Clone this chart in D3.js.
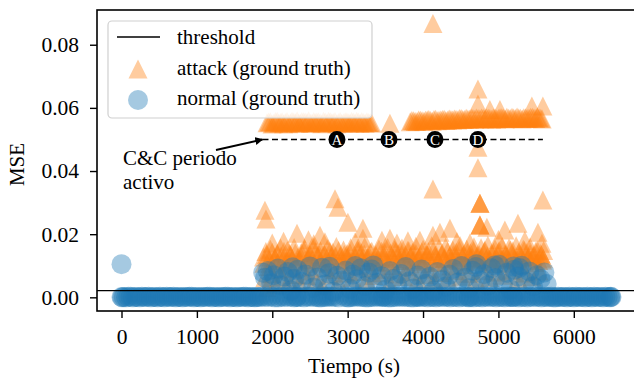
<!DOCTYPE html>
<html><head><meta charset="utf-8">
<script src="https://cdn.jsdelivr.net/npm/d3@7"></script>
<style>body{margin:0;background:#fff}svg{display:block}text{font-family:"Liberation Serif","Times New Roman",serif}</style>
</head><body><svg id="c" width="634" height="378"></svg>
<script>
// ---------- data ----------
const xTicks = [0,1000,2000,3000,4000,5000,6000];
const yTicks = [0,0.02,0.04,0.06,0.08];
const threshold = 0.0021;
const ccPeriod = [1870, 5590];
const ccLevel = 0.05;
const markLabels = ["A","B","C","D"];
const markTimes = [2858, 3548, 4158, 4728];
const legendLabels = ["threshold","attack (ground truth)","normal (ground truth)"];

// attack: plateau ~0.055 (two bands + B)
const attackBand = [
[1930,0.0553],[1975,0.0556],[2020,0.0551],[2065,0.0558],[2110,0.0554],[2150,0.0550],[2195,0.0557],[2240,0.0553],
[2285,0.0555],[2330,0.0559],[2370,0.0552],[2415,0.0556],[2460,0.0554],[2505,0.0551],[2550,0.0557],[2590,0.0555],
[2635,0.0553],[2680,0.0558],[2725,0.0552],[2770,0.0556],[2810,0.0554],[2855,0.0550],[2900,0.0557],[2945,0.0553],
[2990,0.0556],[3030,0.0552],[3075,0.0555],[3120,0.0558],[3165,0.0551],[3210,0.0554],[3255,0.0556],[3300,0.0553],
[1952,0.0555],[1997,0.0549],[2042,0.0557],[2087,0.0552],[2130,0.0556],[2172,0.0554],[2217,0.0550],[2262,0.0558],
[2307,0.0553],[2350,0.0551],[2392,0.0557],[2437,0.0555],[2482,0.0559],[2527,0.0552],[2570,0.0554],[2612,0.0556],
[2657,0.0550],[2702,0.0555],[2747,0.0558],[2790,0.0553],[2832,0.0557],[2877,0.0554],[2922,0.0551],[2967,0.0556],
[3010,0.0553],[3052,0.0558],[3097,0.0552],[3142,0.0555],[3187,0.0557],[3232,0.0551],[3277,0.0554],[3320,0.0552],
[3561,0.0551],
[3830,0.0556],[3875,0.0559],[3920,0.0557],[3965,0.0561],[4010,0.0558],[4055,0.0562],[4100,0.0560],[4145,0.0563],
[4190,0.0559],[4235,0.0562],[4280,0.0564],[4325,0.0561],[4370,0.0563],[4415,0.0565],[4460,0.0562],[4505,0.0566],
[4550,0.0563],[4595,0.0565],[4640,0.0567],[4685,0.0564],[4730,0.0566],[4775,0.0568],[4820,0.0565],[4865,0.0567],
[4910,0.0564],[4955,0.0568],[5000,0.0566],[5045,0.0569],[5090,0.0565],[5135,0.0567],[5180,0.0570],[5225,0.0566],
[5270,0.0568],[5315,0.0565],[5360,0.0569],[5405,0.0567],[5450,0.0570],[5495,0.0566],[5540,0.0568],[5580,0.0565],
[3852,0.0560],[3897,0.0557],[3942,0.0562],[3987,0.0559],[4032,0.0561],[4077,0.0563],[4122,0.0558],[4167,0.0564],
[4212,0.0561],[4257,0.0563],[4302,0.0560],[4347,0.0565],[4392,0.0562],[4437,0.0564],[4482,0.0566],[4527,0.0563],
[4572,0.0567],[4617,0.0564],[4662,0.0566],[4707,0.0568],[4752,0.0565],[4797,0.0567],[4842,0.0569],[4887,0.0566],
[4932,0.0568],[4977,0.0565],[5022,0.0569],[5067,0.0567],[5112,0.0570],[5157,0.0566],[5202,0.0568],[5247,0.0571],
[5292,0.0567],[5337,0.0569],[5382,0.0566],[5427,0.0570],[5472,0.0568],[5517,0.0571],[5562,0.0567]
];
// attack: isolated high values
const attackPeaks = [
[4131,0.0867],[4728,0.0660],[4728,0.0612],[4887,0.0595],[5020,0.0595],[5444,0.0606],[5590,0.0606],
[4728,0.0475],[4728,0.0410],[4131,0.0343],
[1903,0.0276],[1916,0.0248],[2328,0.0203],[2633,0.0197],[2699,0.0176],[2832,0.0312],[2871,0.0285],[3003,0.0238],
[3203,0.0219],[3203,0.0187],[3455,0.0181],[3561,0.0187],[3654,0.0172],[3959,0.0181],[4131,0.0197],[4224,0.0206],
[4357,0.0219],[4622,0.0172],[4755,0.0298],[4755,0.0298],[4755,0.0298],[4755,0.0229],[4755,0.0229],[4755,0.0229],
[4847,0.0222],[5086,0.0213],[5259,0.0235],[5524,0.0206],[5577,0.0171],[5590,0.0308],
[2150,0.0178],[2480,0.0182],[3100,0.0176],[3800,0.0179],[4450,0.0177],[5000,0.0183],[5350,0.0180],[2000,0.0172],[2550,0.0170]
];
// attack: low cloud
const attackLow = [
[1885,0.0128],[1900,0.0062],[1915,0.0145],[1930,0.0031],[1950,0.0098],[1975,0.0152],[1995,0.0075],[2020,0.0118],
[2040,0.0041],[2065,0.0139],[2085,0.0087],[2110,0.0156],[2130,0.0064],[2150,0.0124],[2175,0.0102],[2200,0.0148],
[2220,0.0053],[2245,0.0133],[2270,0.0091],[2290,0.0158],[2315,0.0072],[2340,0.0127],[2360,0.0044],[2385,0.0142],
[2410,0.0096],[2430,0.0154],[2455,0.0068],[2480,0.0121],[2500,0.0137],[2525,0.0083],[2550,0.0159],[2570,0.0058],
[2595,0.0129],[2620,0.0108],[2640,0.0147],[2665,0.0035],[2690,0.0135],[2710,0.0094],[2735,0.0155],[2760,0.0071],
[2780,0.0126],[2805,0.0143],[2830,0.0088],[2850,0.0161],[2875,0.0049],[2900,0.0131],[2920,0.0105],[2945,0.0150],
[2970,0.0077],[2990,0.0138],[3015,0.0119],[3040,0.0157],[3060,0.0063],[3085,0.0132],[3110,0.0099],[3130,0.0149],
[3155,0.0082],[3180,0.0141],[3200,0.0115],[3225,0.0160],[3250,0.0055],[3270,0.0127],[3295,0.0093],[3320,0.0146],
[3345,0.0069],[3370,0.0136],[3390,0.0112],[3415,0.0153],[3440,0.0078],[3460,0.0124],[3485,0.0144],[3510,0.0089],
[3530,0.0158],[3555,0.0046],[3580,0.0130],[3600,0.0101],[3625,0.0151],[3650,0.0074],[3670,0.0139],[3695,0.0117],
[3720,0.0156],[3740,0.0066],[3765,0.0134],[3790,0.0097],[3810,0.0148],[3835,0.0081],[3860,0.0142],[3880,0.0120],
[3905,0.0162],[3930,0.0057],[3950,0.0128],[3975,0.0106],[4000,0.0152],[4020,0.0072],[4045,0.0137],[4070,0.0145],
[4090,0.0090],[4115,0.0163],[4140,0.0051],[4160,0.0133],[4185,0.0110],[4210,0.0155],[4230,0.0079],[4255,0.0140],
[4280,0.0123],[4300,0.0159],[4325,0.0061],[4350,0.0131],[4370,0.0100],[4395,0.0150],[4420,0.0085],[4440,0.0143],
[4465,0.0118],[4490,0.0164],[4510,0.0067],[4535,0.0135],[4560,0.0104],[4580,0.0153],[4605,0.0076],[4630,0.0141],
[4650,0.0126],[4675,0.0160],[4700,0.0058],[4720,0.0132],[4745,0.0113],[4770,0.0157],[4790,0.0084],[4815,0.0146],
[4840,0.0121],[4860,0.0165],[4885,0.0063],[4910,0.0138],[4930,0.0107],[4955,0.0154],[4980,0.0080],[5000,0.0144],
[5025,0.0125],[5050,0.0161],[5070,0.0070],[5095,0.0134],[5120,0.0109],[5140,0.0156],[5165,0.0086],[5190,0.0147],
[5210,0.0122],[5235,0.0163],[5260,0.0060],[5280,0.0136],[5305,0.0103],[5330,0.0152],[5350,0.0077],[5375,0.0142],
[5400,0.0128],[5420,0.0159],[5445,0.0065],[5470,0.0133],[5490,0.0111],[5515,0.0150],[5540,0.0083],[5560,0.0139],
[5585,0.0118],[5600,0.0148]
];
const attackLow2 = [
[1890,0.0108],[1925,0.0136],[1960,0.0117],[2000,0.0143],[2035,0.0125],[2075,0.0109],[2115,0.0131],[2155,0.0146],
[2190,0.0114],[2230,0.0138],[2265,0.0122],[2305,0.0140],[2345,0.0111],[2380,0.0129],[2420,0.0147],[2460,0.0116],
[2495,0.0134],[2535,0.0120],[2575,0.0144],[2610,0.0127],[2650,0.0112],[2690,0.0139],[2725,0.0123],[2765,0.0145],
[2800,0.0115],[2840,0.0132],[2880,0.0148],[2915,0.0118],[2955,0.0136],[2995,0.0124],[3030,0.0141],[3070,0.0113],
[3105,0.0130],[3145,0.0147],[3185,0.0119],[3220,0.0137],[3260,0.0126],[3300,0.0143],[3335,0.0114],[3375,0.0131],
[3410,0.0121],[3450,0.0146],[3490,0.0128],[3525,0.0112],[3565,0.0140],[3605,0.0124],[3640,0.0145],[3680,0.0117],
[3715,0.0134],[3755,0.0122],[3795,0.0148],[3830,0.0129],[3870,0.0113],[3905,0.0139],[3945,0.0125],[3985,0.0144],
[4020,0.0116],[4060,0.0133],[4095,0.0121],[4135,0.0147],[4175,0.0127],[4210,0.0112],[4250,0.0138],[4290,0.0124],
[4325,0.0146],[4365,0.0118],[4400,0.0135],[4440,0.0126],[4480,0.0149],[4515,0.0130],[4555,0.0114],[4590,0.0141],
[4630,0.0123],[4670,0.0147],[4705,0.0119],[4745,0.0136],[4780,0.0128],[4820,0.0150],[4855,0.0131],[4895,0.0115],
[4935,0.0142],[4970,0.0124],[5010,0.0148],[5045,0.0120],[5085,0.0137],[5120,0.0127],[5160,0.0151],[5195,0.0132],
[5235,0.0116],[5270,0.0143],[5310,0.0125],[5345,0.0149],[5385,0.0121],[5420,0.0138],[5460,0.0129],[5495,0.0146],
[5535,0.0117],[5570,0.0135],[5595,0.0124]
];
// normal: near-zero baseline
const normalBase = [
[0,0.0001],[60,0.0000],[120,0.0002],[180,0.0001],[240,0.0000],[300,0.0001],[360,0.0002],[420,0.0001],[480,0.0000],
[540,0.0001],[600,0.0002],[660,0.0001],[720,0.0000],[780,0.0001],[840,0.0001],[900,0.0002],[960,0.0000],[1020,0.0001],
[1080,0.0001],[1140,0.0002],[1200,0.0000],[1260,0.0001],[1320,0.0001],[1380,0.0002],[1440,0.0000],[1500,0.0001],
[1560,0.0001],[1620,0.0002],[1680,0.0000],[1740,0.0001],[1800,0.0001],[1860,0.0002],
[1900,0.0001],[1990,0.0002],[2080,0.0000],[2160,0.0001],[2250,0.0002],[2330,0.0001],[2420,0.0000],[2500,0.0002],
[2590,0.0001],[2650,0.0000],[2720,0.0001],[2790,0.0002],[2960,0.0001],[3020,0.0000],[3090,0.0002],[3170,0.0001],
[3240,0.0000],[3310,0.0001],[3390,0.0002],[3460,0.0001],[3540,0.0000],[3610,0.0001],[3690,0.0002],[3760,0.0001],
[3840,0.0000],[3910,0.0002],[3990,0.0001],[4060,0.0000],[4140,0.0001],[4210,0.0002],[4290,0.0001],[4360,0.0000],
[4440,0.0001],[4520,0.0002],[4600,0.0001],[4670,0.0000],[4750,0.0001],[4820,0.0002],[4900,0.0001],[4970,0.0000],
[5050,0.0001],[5120,0.0002],[5200,0.0001],[5270,0.0000],[5350,0.0001],[5420,0.0002],[5500,0.0001],[5570,0.0000],
[5640,0.0001],[5700,0.0002],[5760,0.0000],[5820,0.0001],[5880,0.0001],[5940,0.0002],[6000,0.0000],[6060,0.0001],
[6120,0.0001],[6180,0.0002],[6240,0.0000],[6300,0.0001],[6360,0.0001],[6420,0.0002],[6480,0.0000],[6500,0.0001]
];
const normalBase2 = [
[1945,0.0001],[2035,0.0000],[2120,0.0002],[2205,0.0001],[2290,0.0000],[2375,0.0001],[2460,0.0002],[2545,0.0001],
[2620,0.0000],[2685,0.0001],[2755,0.0002],[2830,0.0001],[2995,0.0000],[3055,0.0001],[3130,0.0002],[3205,0.0001],
[3275,0.0000],[3350,0.0001],[3425,0.0002],[3500,0.0001],[3575,0.0000],[3650,0.0001],[3725,0.0002],[3800,0.0001],
[3875,0.0000],[3950,0.0001],[4025,0.0002],[4100,0.0001],[4175,0.0000],[4250,0.0001],[4325,0.0002],[4400,0.0001],
[4480,0.0000],[4560,0.0001],[4635,0.0002],[4710,0.0001],[4785,0.0000],[4860,0.0001],[4935,0.0002],[5010,0.0001],
[5085,0.0000],[5160,0.0001],[5235,0.0002],[5310,0.0001],[5385,0.0000],[5460,0.0001],[5535,0.0002],[5605,0.0001]
];
const normalBase3 = [
[10,0.0000],[30,0.0001],[90,0.0002],[150,0.0000],[210,0.0001],[270,0.0002],[330,0.0001],[390,0.0000],[450,0.0001],
[510,0.0002],[570,0.0000],[630,0.0001],[690,0.0002],[750,0.0001],[810,0.0000],[870,0.0001],[930,0.0002],[990,0.0001],
[1050,0.0000],[1110,0.0001],[1170,0.0002],[1230,0.0001],[1290,0.0000],[1350,0.0001],[1410,0.0002],[1470,0.0001],
[1530,0.0000],[1590,0.0001],[1650,0.0002],[1710,0.0001],[1770,0.0000],[1830,0.0001],
[2320,0.0001],[2880,0.0000],[3470,0.0002],[3930,0.0001],[4610,0.0000],[5190,0.0001],
[5670,0.0001],[5730,0.0000],[5790,0.0002],[5850,0.0001],[5910,0.0000],[5970,0.0001],[6030,0.0002],[6090,0.0001],
[6150,0.0000],[6210,0.0001],[6270,0.0002],[6330,0.0001],[6390,0.0000],[6450,0.0001],[6490,0.0002]
];
// normal: raised values during C&C period (and one at t=0)
const normalHigh = [
[0,0.0105],
[1880,0.0078],[1905,0.0062],[1940,0.0083],[1985,0.0045],[2020,0.0070],[2075,0.0091],[2110,0.0038],[2160,0.0066],
[2205,0.0080],[2250,0.0022],[2290,0.0059],[2335,0.0087],[2390,0.0049],[2440,0.0072],[2500,0.0098],[2545,0.0031],
[2600,0.0063],[2660,0.0094],[2700,0.0041],[2750,0.0076],[2810,0.0018],[2860,0.0068],[2920,0.0053],[2975,0.0085],
[3030,0.0027],[3070,0.0072],[3120,0.0057],[3175,0.0092],[3230,0.0036],[3280,0.0079],[3340,0.0101],[3390,0.0046],
[3450,0.0067],[3500,0.0024],[3560,0.0083],[3610,0.0058],[3660,0.0039],[3710,0.0074],[3770,0.0096],[3820,0.0051],
[3870,0.0028],[3930,0.0069],[3980,0.0088],[4040,0.0043],[4090,0.0065],[4140,0.0021],[4190,0.0080],[4250,0.0055],
[4300,0.0034],[4350,0.0072],[4400,0.0090],[4460,0.0047],[4510,0.0099],[4560,0.0062],[4610,0.0029],[4660,0.0084],
[4710,0.0105],[4760,0.0053],[4810,0.0073],[4860,0.0038],[4910,0.0092],[4960,0.0061],[5010,0.0103],[5060,0.0044],
[5110,0.0078],[5160,0.0025],[5210,0.0087],[5260,0.0066],[5310,0.0100],[5360,0.0050],[5410,0.0082],[5460,0.0035],
[5510,0.0070],[5560,0.0058],[5610,0.0079],[5640,0.0042],
[2270,0.0095],[2760,0.0097],[3100,0.0099],[3320,0.0088],[4700,0.0096],[4950,0.0101],[5200,0.0098],[5280,0.0093]
];

// ---------- drawing ----------
const svg = d3.select("#c");
const L = 97, R = 636, T = 10, B = 311;
const x = d3.scaleLinear().domain([-325, 6825]).range([L, R]);
const y = d3.scaleLinear().domain([-0.00433, 0.0910]).range([B, T]);
const ORANGE = "#ff7f0e", BLUE = "#1f77b4", ALPHA = 0.4;
const FONT = '"Liberation Serif","Times New Roman",serif';
const tri = h => `M0,${-h}L${h},${h}L${-h},${h}Z`;

svg.append("defs").append("clipPath").attr("id","clp")
  .append("rect").attr("x",L).attr("y",T).attr("width",R-L).attr("height",B-T);
const plot = svg.append("g").attr("clip-path","url(#clp)");

const attackAll = attackLow.concat(attackLow2, attackPeaks, attackBand);
plot.append("g").selectAll("path").data(attackAll).join("path")
  .attr("d", tri(9.5))
  .attr("transform", d => `translate(${x(d[0])},${y(d[1])})`)
  .attr("fill", ORANGE).attr("fill-opacity", ALPHA);

const normalAll = normalBase.concat(normalBase2, normalBase3, normalHigh);
plot.append("g").selectAll("circle").data(normalAll).join("circle")
  .attr("cx", d => x(d[0])).attr("cy", d => y(d[1])).attr("r", 10)
  .attr("fill", BLUE).attr("fill-opacity", ALPHA);

// threshold
plot.append("line").attr("x1",L).attr("x2",R).attr("y1",y(threshold)).attr("y2",y(threshold))
  .attr("stroke","#000").attr("stroke-width",1.2);

// C&C period dashed line
plot.append("line").attr("x1",x(ccPeriod[0])).attr("x2",x(ccPeriod[1]))
  .attr("y1",y(ccLevel)).attr("y2",y(ccLevel))
  .attr("stroke","#000").attr("stroke-width",1.6).attr("stroke-dasharray","6,3.5");

// markers A-D
const mk = svg.append("g").selectAll("g").data(markLabels).join("g")
  .attr("transform",(d,i)=>`translate(${x(markTimes[i])},${y(ccLevel)})`);
mk.append("circle").attr("r",8.5).attr("fill","#000");
mk.append("text").text(d=>d).attr("text-anchor","middle").attr("dy","0.36em")
  .attr("fill","#fff").attr("font-size",15);

// annotation
svg.append("defs").append("marker").attr("id","ah").attr("viewBox","0 0 10 10")
  .attr("refX",9).attr("refY",5).attr("markerWidth",4).attr("markerHeight",4).attr("orient","auto")
  .append("path").attr("d","M0,0L10,5L0,10Z").attr("fill","#000");
svg.append("line").attr("x1",216).attr("y1",150).attr("x2",x(ccPeriod[0])).attr("y2",y(ccLevel))
  .attr("stroke","#000").attr("stroke-width",2).attr("marker-end","url(#ah)");
svg.append("text").attr("x",123).attr("y",165).attr("font-size",21).text("C&C periodo");
svg.append("text").attr("x",123).attr("y",189).attr("font-size",21).text("activo");

// axes frame
const ax = svg.append("g");
ax.append("rect").attr("x",L).attr("y",T).attr("width",R-L).attr("height",B-T)
  .attr("fill","none").attr("stroke","#000").attr("stroke-width",1.6);

const xa = ax.append("g").attr("transform",`translate(0,${B})`)
  .call(d3.axisBottom(x).tickValues(xTicks).tickFormat(d3.format("d")).tickSize(7).tickPadding(11));
const ya = ax.append("g").attr("transform",`translate(${L},0)`)
  .call(d3.axisLeft(y).tickValues(yTicks).tickFormat(d3.format(".2f")).tickSize(7).tickPadding(11));
[xa, ya].forEach(g => {
  g.select(".domain").remove();
  g.selectAll(".tick line").attr("stroke","#000").attr("stroke-width",1.4);
  g.selectAll(".tick text").attr("font-size",21.5).attr("fill","#000").attr("font-family",FONT);
});

svg.append("text").attr("x",354).attr("y",373).attr("text-anchor","middle")
  .attr("font-size",21).text("Tiempo (s)");
svg.append("text").attr("transform",`translate(24,${(T+B)/2+4}) rotate(-90)`)
  .attr("text-anchor","middle").attr("font-size",21).text("MSE");

// legend
const lg = svg.append("g");
lg.append("rect").attr("x",108).attr("y",21).attr("width",264).attr("height",97).attr("rx",4)
  .attr("fill","#fff").attr("fill-opacity",0.8).attr("stroke","#d0d0d0").attr("stroke-width",1.2);
lg.append("line").attr("x1",117).attr("x2",160).attr("y1",37).attr("y2",37)
  .attr("stroke","#000").attr("stroke-width",1.4);
lg.append("path").attr("d",tri(9.5)).attr("transform","translate(138,69)")
  .attr("fill",ORANGE).attr("fill-opacity",ALPHA);
lg.append("circle").attr("cx",138).attr("cy",100).attr("r",10)
  .attr("fill",BLUE).attr("fill-opacity",ALPHA);
lg.selectAll("text").data(legendLabels).join("text")
  .attr("x",177).attr("y",(d,i)=>44+i*30.5).attr("font-size",21).text(d=>d);
</script></body></html>
